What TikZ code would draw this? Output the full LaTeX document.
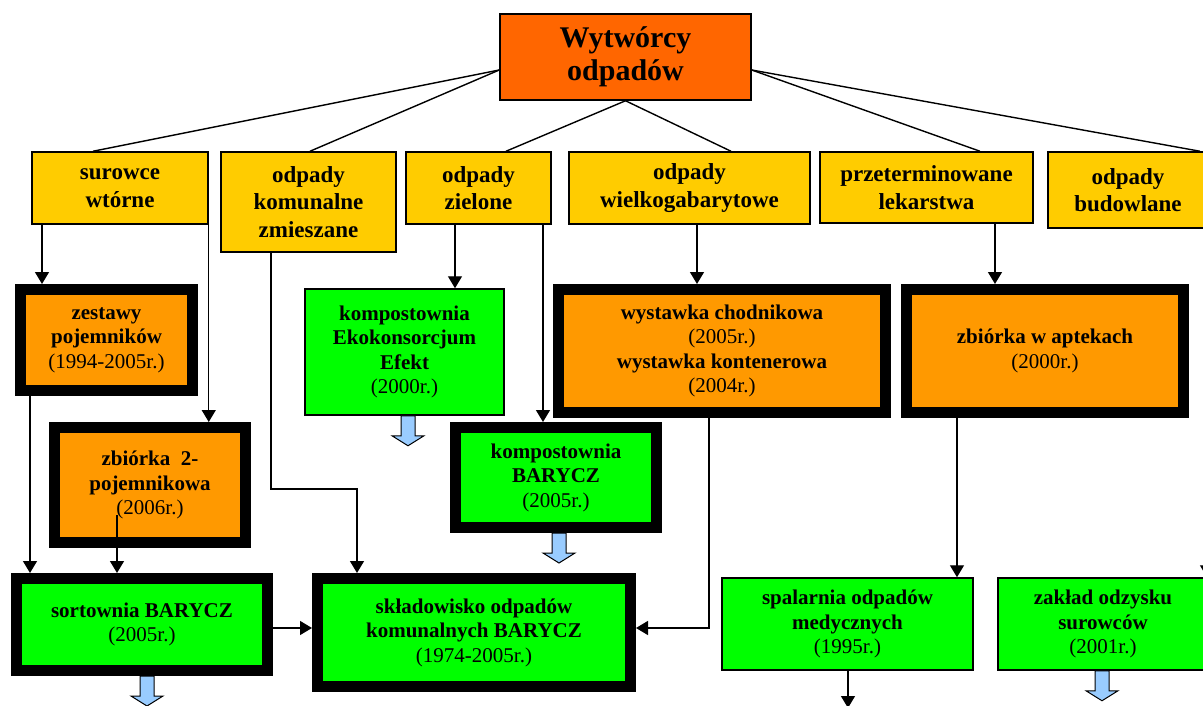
\documentclass[tikz,border=0pt]{standalone}
\usepackage{fontspec}
\setmainfont{Liberation Serif}
\usetikzlibrary{arrows.meta,calc}
\definecolor{cTop}{HTML}{FF6600}
\definecolor{cYel}{HTML}{FFCC00}
\definecolor{cOr}{HTML}{FF9900}
\definecolor{cGreen}{HTML}{00FF00}
\definecolor{cBlue}{HTML}{99CCFF}
\newcommand{\bluearr}[1]{\draw[barrow] (#1) ++(-7,0) -- ++(0,20) -- ++(-9,0) -- ++(16,10) -- ++(16,-10) -- ++(-9,0) -- ++(0,-20) -- cycle;}
\begin{document}
\begin{tikzpicture}[x=1pt,y=-1pt,
  box/.style={draw=black, line width=1.5pt, inner sep=0pt, align=center},
  ybox/.style={box, fill=cYel, font=\fontsize{23}{27.5}\selectfont\bfseries},
  tbox/.style={draw=black, line width=11pt, inner sep=0pt, align=center, font=\fontsize{21}{24.5}\selectfont},
  gbox/.style={box, fill=cGreen, font=\fontsize{21}{24.5}\selectfont},
  conn/.style={line width=1.4pt, -{Triangle[length=12pt,width=14pt]}},
  plain/.style={line width=1.4pt},
  barrow/.style={draw=black, line width=1pt, fill=cBlue}
]
\useasboundingbox (0,0) rectangle (1203,705);
\clip (0,0) rectangle (1203,705);
\fill[white] (0,0) rectangle (1203,705);

% top
\node[box, fill=cTop, minimum width=251pt, minimum height=86pt, font=\fontsize{30}{33}\selectfont\bfseries] (top) at (625.5,57) {Wytwórcy\\odpadów};

% yellow categories
\node[ybox, minimum width=176pt, minimum height=72pt] (sur) at (120,188) {surowce\\wtórne};
\node[ybox, minimum width=175pt, minimum height=100pt] (kom) at (308.5,202) {odpady\\komunalne\\zmieszane};
\node[ybox, minimum width=145pt, minimum height=72pt] (ziel) at (478.5,188) {odpady\\zielone};
\node[ybox, minimum width=241pt, minimum height=72pt] (wiel) at (689.5,188) {odpady\\wielkogabarytowe};
\node[ybox, minimum width=213pt, minimum height=71pt] (prz) at (926.5,187.5) {przeterminowane\\lekarstwa};
\node[ybox, minimum width=160pt, minimum height=76pt] (bud) at (1128,190) {odpady\\budowlane};

% row 3
\node[tbox, fill=cOr, minimum width=172pt, minimum height=101pt] (zest) at (106.5,340) {\textbf{zestawy}\\\textbf{pojemników}\\(1994-2005r.)};
\node[gbox, minimum width=199pt, minimum height=126pt] (eko) at (404.5,352) {\textbf{kompostownia}\\\textbf{Ekokonsorcjum}\\\textbf{Efekt}\\(2000r.)};
\node[tbox, fill=cOr, minimum width=327pt, minimum height=123pt] (wyst) at (722,351) {\textbf{wystawka chodnikowa}\\(2005r.)\\\textbf{wystawka kontenerowa}\\(2004r.)};
\node[tbox, fill=cOr, minimum width=277pt, minimum height=123pt] (apt) at (1045,351) {\textbf{zbiórka w aptekach}\\(2000r.)};

% row 4
\node[tbox, fill=cOr, minimum width=191pt, minimum height=115pt] (zb2) at (150,485) {\textbf{zbiórka\ \ 2-}\\\textbf{pojemnikowa}\\(2006r.)};
\node[tbox, fill=cGreen, minimum width=201pt, minimum height=100pt] (kompB) at (556,477.5) {\textbf{kompostownia}\\\textbf{BARYCZ}\\(2005r.)};

% row 5
\node[tbox, fill=cGreen, minimum width=251pt, minimum height=92pt] (sort) at (142,624.5) {\textbf{sortownia BARYCZ}\\(2005r.)};
\node[tbox, fill=cGreen, minimum width=313pt, minimum height=108pt] (skl) at (474,632.5) {\textbf{składowisko odpadów}\\\textbf{komunalnych BARYCZ}\\(1974-2005r.)};
\node[gbox, minimum width=251pt, minimum height=92pt] (spal) at (847.5,624) {\textbf{spalarnia odpadów}\\\textbf{medycznych}\\(1995r.)};
\node[gbox, minimum width=210pt, minimum height=92pt] (zak) at (1103,624) {\textbf{zakład odzysku}\\\textbf{surowców}\\(2001r.)};

% lines from the top box
\draw[plain] ($(top.west)+(0,13)$) -- ($(sur.north)+(-27,0)$);
\draw[plain] ($(top.west)+(0,13)$) -- ($(kom.north)+(1.5,0)$);
\draw[plain] (top.south) -- ($(ziel.north)+(27.5,0)$);
\draw[plain] (top.south) -- ($(wiel.north)+(41.5,0)$);
\draw[plain] ($(top.east)+(0,13)$) -- ($(prz.north)+(53.5,0)$);
\draw[plain] ($(top.east)+(0,13)$) -- ($(bud.north)+(72,0)$);

% arrows
\draw[conn] ($(sur.south)+(-78,0)$) -- ($(zest.north)+(-64.5,0)$);
\draw[conn] (sur.south east) -- ($(zb2.north)+(58.75,0)$);
\draw[conn] ($(zest.south)+(-76.5,0)$) -- ($(sort.north)+(-112,0)$);
\draw[conn] ($(zb2.center)+(-33,30)$) -- ($(sort.north)+(-25,0)$);
\draw[conn] ($(kom.south)+(-37.5,0)$) |- ($(skl.north)+(-117,-84)$) -- ($(skl.north)+(-117,0)$);
\draw[conn] ($(ziel.south)+(-23.5,0)$) -- ($(eko.north)+(50.5,0)$);
\draw[conn] ($(ziel.south)+(64.5,0)$) -- ($(kompB.north)+(-13,0)$);
\draw[conn] ($(wiel.south)+(7.5,0)$) -- ($(wyst.north)+(-25,0)$);
\draw[conn] ($(wyst.south)+(-13,0)$) |- ($(skl.east)+(0,-4.5)$);
\draw[conn] ($(sort.east)+(0,3.5)$) -- ($(skl.west)+(0,-4.5)$);
\draw[conn] ($(prz.south)+(68.5,0)$) -- ($(apt.north)+(-50,0)$);
\draw[conn] ($(apt.south)+(-88,0)$) -- ($(spal.north)+(109.5,0)$);
\coordinate (spalout) at (848,708);
\draw[conn] (spal.south -| spalout) -- (spalout);
\coordinate (zakin) at (1207,440);
\draw[conn] (zakin) -- (zakin |- zak.north);

% blue block arrows
\bluearr{$(eko.south)+(3.5,0)$}
\bluearr{$(kompB.south)+(3,0)$}
\bluearr{$(sort.south)+(5,0)$}
\bluearr{$(zak.south)+(-1,0)$}
\end{tikzpicture}
\end{document}
